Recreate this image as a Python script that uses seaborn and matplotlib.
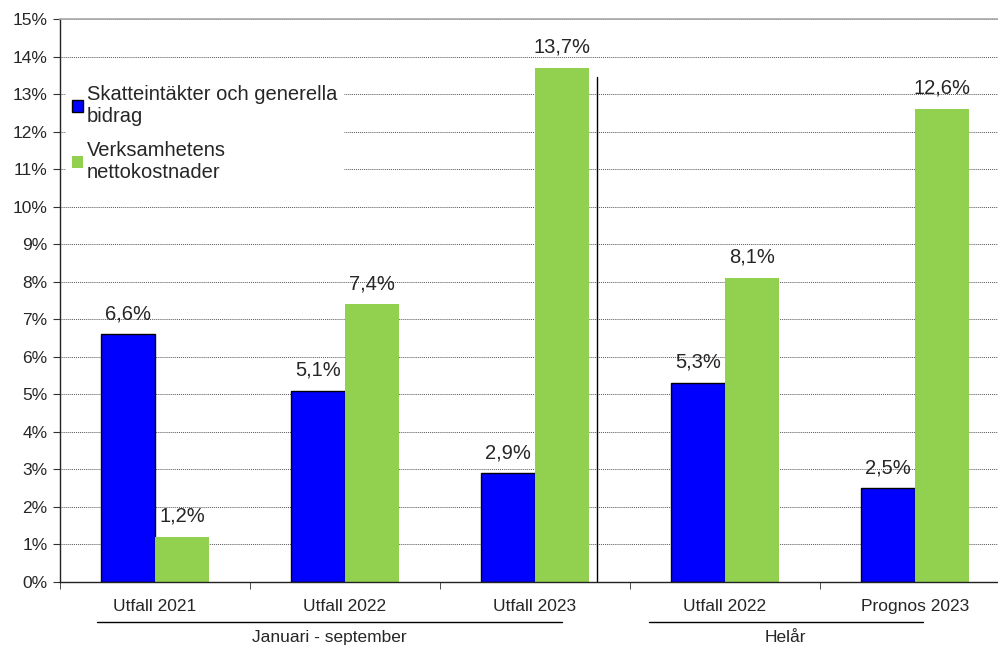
import pandas as pd
import seaborn as sns
import matplotlib.pyplot as plt
from matplotlib.patches import Patch
from matplotlib.ticker import FuncFormatter, FixedLocator

sns.set_style("white")
plt.rcParams['font.family'] = ['Liberation Sans', 'DejaVu Sans']

# data
kategorier = ["Utfall 2021", "Utfall 2022", "Utfall 2023", "Utfall 2022", "Prognos 2023"]
nycklar = ["jan_2021", "jan_2022", "jan_2023", "helar_2022", "helar_2023"]
skatter = [6.6, 5.1, 2.9, 5.3, 2.5]
kostnader = [1.2, 7.4, 13.7, 8.1, 12.6]
serier = ["Skatteintäkter och generella bidrag", "Verksamhetens nettokostnader"]
etiketter_skatter = ["6,6%", "5,1%", "2,9%", "5,3%", "2,5%"]
etiketter_kostnader = ["1,2%", "7,4%", "13,7%", "8,1%", "12,6%"]
grupper = ["Januari - september", "Helår"]

df = pd.DataFrame({
    "nyckel": nycklar * 2,
    "varde": skatter + kostnader,
    "serie": [serier[0]] * 5 + [serier[1]] * 5,
})

blue = "#0000FF"
green = "#92D050"

fig = plt.figure(figsize=(9.98, 6.45), dpi=100)
ax = fig.add_axes([0.0601, 0.0977, 1.012 - 0.0601, 0.9705 - 0.0977])

sns.barplot(data=df, x="nyckel", y="varde", hue="serie", order=nycklar,
            hue_order=serier, palette=[blue, green], width=0.57,
            saturation=1, ax=ax, legend=False)

for p in ax.containers[0]:
    p.set_edgecolor("black")
    p.set_linewidth(1.0)
for p in ax.containers[1]:
    p.set_edgecolor("none")

ax.bar_label(ax.containers[0], labels=etiketter_skatter, padding=8, fontsize=14.5)
ax.bar_label(ax.containers[1], labels=etiketter_kostnader, padding=8, fontsize=14.5)

ax.set_xlim(-0.5, 4.5)
ax.set_ylim(0, 15)
ax.set_yticks(range(0, 16))
ax.yaxis.set_major_formatter(FuncFormatter(lambda v, p: f"{int(v)}%"))
ax.grid(axis="y", color="#555555", linestyle=(0, (1, 1)), linewidth=0.7)
ax.set_axisbelow(True)

ax.set_xticks(range(5))
ax.set_xticklabels(kategorier)
ax.xaxis.set_minor_locator(FixedLocator([-0.5, 0.5, 1.5, 2.5, 3.5, 4.5]))
ax.tick_params(axis="x", which="major", length=0, pad=12, labelsize=12.5)
ax.tick_params(axis="x", which="minor", length=5, color="#333333", direction="out", bottom=True)
ax.tick_params(axis="y", length=5, color="#333333", direction="out", left=True, labelsize=12.5, pad=4)
ax.set_xlabel("")
ax.set_ylabel("")

for side in ["left", "bottom"]:
    ax.spines[side].set_color("#222222")
    ax.spines[side].set_linewidth(1.0)
ax.spines["top"].set_color("#aaaaaa")
ax.spines["top"].set_linewidth(1.2)
ax.spines["right"].set_visible(False)

# divider between the two periods
ax.plot([2.326, 2.326], [0, 13.45], color="black", linewidth=1.0)

# group labels below the axis
trans = ax.get_xaxis_transform()
for namn, x0, x1 in [(grupper[0], -0.305, 2.142), (grupper[1], 2.6, 4.04)]:
    ax.plot([x0, x1], [-0.071, -0.071], color="black", linewidth=1.0,
            transform=trans, clip_on=False)
    ax.text((x0 + x1) / 2, -0.098, namn, transform=trans, ha="center",
            va="center", fontsize=12.5)

handles = [Patch(facecolor=blue, edgecolor="black", linewidth=1.0),
           Patch(facecolor=green, edgecolor="none")]
ax.legend(handles, ["Skatteintäkter och generella\nbidrag", "Verksamhetens\nnettokostnader"],
          loc="upper left", bbox_to_anchor=(0.002, 0.90), fontsize=14.5,
          frameon=True, facecolor="white", edgecolor="white", framealpha=1,
          handlelength=0.55, handleheight=0.55, handletextpad=0.2,
          labelspacing=0.75, borderpad=0.3, borderaxespad=0.2)

fig.savefig("out.png", dpi=100)
